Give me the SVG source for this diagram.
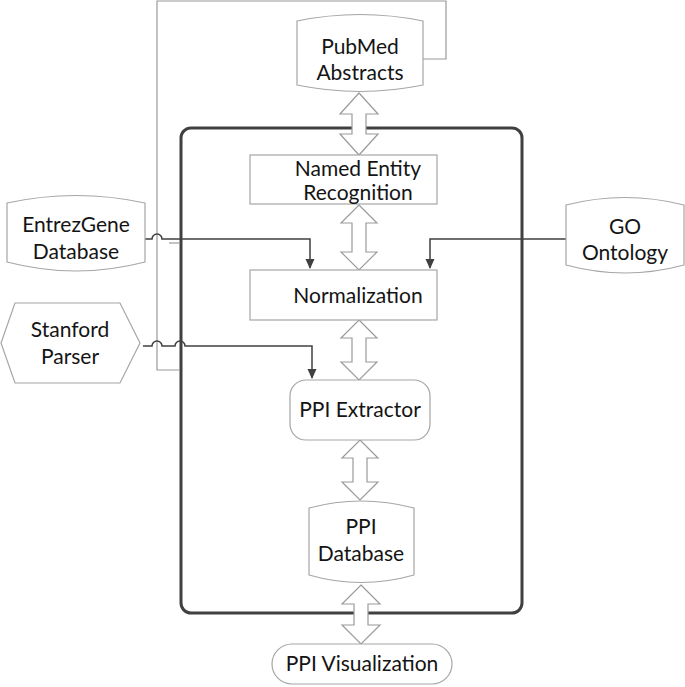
<svg xmlns="http://www.w3.org/2000/svg" width="685" height="687" viewBox="0 0 685 687">
<defs>
<style>
.node{fill:#fff;stroke:#a6a6a6;stroke-width:1.2}
.t{font-family:Lato,"Liberation Sans",sans-serif;font-size:21px;fill:#141414;text-anchor:middle}
.dbl{fill:#fff;stroke:#9a9a9a;stroke-width:1.2}
.conn{fill:none;stroke:#404040;stroke-width:1.5}
.loop{fill:none;stroke:#9a9a9a;stroke-width:1.2}
</style>
<marker id="ah" markerWidth="10" markerHeight="10" refX="9" refY="5" orient="auto" markerUnits="userSpaceOnUse">
<path d="M0,0.5 L10,5 L0,9.5 Z" fill="#404040"/>
</marker>
</defs>
<rect width="685" height="687" fill="#fff"/>
<g id="container">
<rect x="181" y="128" width="341" height="485" rx="10" fill="none" stroke="#404040" stroke-width="3"/>
</g>
<g id="connectors">
<path class="loop" d="M180,370 H157 V1 H446 V59 H423"/>
<path class="loop" d="M169,243 H180"/>
<path class="conn" d="M140,239 H152 A5,5 0 0 1 162,239 H310 V268" marker-end="url(#ah)"/>
<path class="conn" d="M570,239 H430 V268" marker-end="url(#ah)"/>
<path class="conn" d="M143,346 H152 A5,5 0 0 1 162,346 H175 A5,5 0 0 1 185,346 H312 V378" marker-end="url(#ah)"/>
<path class="dbl" d="M359,93 L378,114 L366,114 L366,134 L378,134 L359,155 L340,134 L352,134 L352,114 L340,114 Z"/>
<path class="dbl" d="M359,205 L377,223 L366,223 L366,252 L377,252 L359,270 L341,252 L352,252 L352,223 L341,223 Z"/>
<path class="dbl" d="M359,320 L377,338 L366,338 L366,362 L377,362 L359,380 L341,362 L352,362 L352,338 L341,338 Z"/>
<path class="dbl" d="M360,440 L378,458 L367,458 L367,482 L378,482 L360,500 L342,482 L353,482 L353,458 L342,458 Z"/>
<path class="dbl" d="M361,585 L380,604 L368,604 L368,625 L380,625 L361,644 L342,625 L354,625 L354,604 L342,604 Z"/>
</g>
<g id="pubmed">
<path class="node" d="M297,21 Q360,8 423,21 V85 Q360,98 297,85 Z"/>
<text class="t" x="360" y="54">PubMed</text>
<text class="t" x="360" y="80">Abstracts</text>
</g>
<g id="ner">
<rect class="node" x="250" y="155" width="187" height="49"/>
<text class="t" x="358" y="176">Named Entity</text>
<text class="t" x="358" y="200">Recognition</text>
</g>
<g id="normalization">
<rect class="node" x="250" y="270" width="187" height="50"/>
<text class="t" x="358" y="303">Normalization</text>
</g>
<g id="ppiextractor">
<rect class="node" x="290" y="380" width="140" height="60" rx="16"/>
<text class="t" x="360" y="417">PPI Extractor</text>
</g>
<g id="ppidatabase">
<path class="node" d="M309,508 Q361,494 414,508 V575 Q361,590 309,575 Z"/>
<text class="t" x="361" y="534">PPI</text>
<text class="t" x="361" y="561">Database</text>
</g>
<g id="ppivisualization">
<rect class="node" x="272" y="644" width="180" height="40" rx="20"/>
<text class="t" x="362" y="671">PPI Visualization</text>
</g>
<g id="entrezgene">
<path class="node" d="M7,203 Q76,188 145,203 V262 Q76,280 7,262 Z"/>
<text class="t" x="76" y="232">EntrezGene</text>
<text class="t" x="76" y="259">Database</text>
</g>
<g id="goontology">
<path class="node" d="M566,205 Q625,190 684,205 V265 Q625,281 566,265 Z"/>
<text class="t" x="625" y="234">GO</text>
<text class="t" x="625" y="260">Ontology</text>
</g>
<g id="stanford">
<path class="node" d="M1,343 L15,303 L120,303 L140,343 L120,383 L15,383 Z"/>
<text class="t" x="70" y="337">Stanford</text>
<text class="t" x="70" y="364">Parser</text>
</g>
</svg>
